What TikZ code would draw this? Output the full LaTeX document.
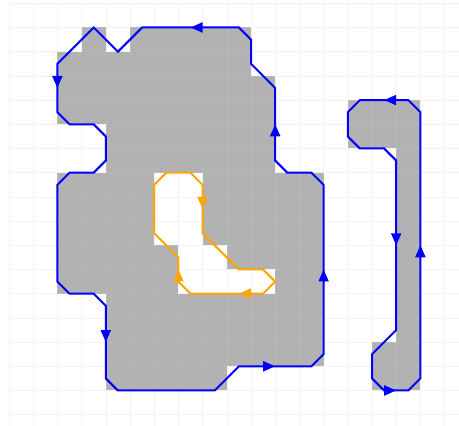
\documentclass[tikz,border=0pt]{standalone}
\usepackage{tikz}
\usetikzlibrary{arrows.meta}
\definecolor{cellgray}{RGB}{178,178,178}
\definecolor{outline}{RGB}{0,0,255}
\definecolor{holeline}{RGB}{255,165,0}

\begin{document}
\begin{tikzpicture}[
    x=24.2pt, y=-24.2pt,
    cell/.style={fill=cellgray},
    gridline/.style={draw=black!5, line width=0.6pt},
    gridover/.style={draw=white, opacity=0.08, line width=0.6pt},
    outer/.style={draw=outline, line width=2pt, line join=miter},
    hole/.style={draw=holeline, line width=2pt, line join=miter},
    outerarrow/.style={outer, -{Triangle[length=12pt,width=10pt]}},
    holearrow/.style={hole, -{Triangle[length=12pt,width=10pt]}}
]
\useasboundingbox (-0.372,-0.136) rectangle (18.595,17.467);

% background grid
\foreach \i in {0,...,18} \draw[gridline] (\i,0) -- (\i,17.467);
\foreach \j in {0,...,17} \draw[gridline] (0,\j) -- (18.595,\j);

% filled cells: row/first column/last column
\foreach \r/\a/\b in {1/3/3, 1/5/9, 2/2/9, 3/2/10, 4/2/10, 5/4/10, 6/4/10,
    7/2/5, 7/8/12, 8/2/5, 8/8/12, 9/2/5, 9/8/12, 10/2/6, 10/9/12,
    11/2/6, 11/11/12, 12/4/12, 13/4/12, 14/4/12, 15/4/8,
    4/14/16, 5/14/16, 14/15/16, 15/15/16}
  \fill[cell] (\a,\r) rectangle ({\b+1},{\r+1});
\fill[cell] (16,6) rectangle (17,14);

\foreach \i in {0,...,18} \draw[gridover] (\i,0) -- (\i,17.467);
\foreach \j in {0,...,17} \draw[gridover] (0,\j) -- (18.595,\j);

% outer contour of the big region
\draw[outer] (9.5,1) -- (5.5,1) -- (4.5,2) -- (3.5,1) -- (2,2.5) -- (2,4.5)
  -- (2.5,5) -- (3.5,5) -- (4,5.5) -- (4,6.5) -- (3.5,7) -- (2.5,7) -- (2,7.5)
  -- (2,11.5) -- (2.5,12) -- (3.5,12) -- (4,12.5) -- (4,15.5) -- (4.5,16)
  -- (8.5,16) -- (9.5,15) -- (12.5,15) -- (13,14.5) -- (13,7.5) -- (12.5,7)
  -- (11.5,7) -- (11,6.5) -- (11,3.5) -- (10,2.5) -- (10,1.5) -- cycle;
\draw[outerarrow] (8,1) -- (7.5,1);
\draw[outerarrow] (2,3) -- (2,3.5);
\draw[outerarrow] (4,13.5) -- (4,14);
\draw[outerarrow] (10.5,15) -- (11,15);
\draw[outerarrow] (13,11.5) -- (13,11);
\draw[outerarrow] (11,5.5) -- (11,5);

% hole
\draw[hole] (6.5,7) -- (7.5,7) -- (8,7.5) -- (8,9.5) -- (9.5,11) -- (10.5,11)
  -- (11,11.5) -- (10.5,12) -- (7.5,12) -- (7,11.5) -- (7,10.5) -- (6,9.5)
  -- (6,7.5) -- cycle;
\draw[holearrow] (8,8) -- (8,8.5);
\draw[holearrow] (10,12) -- (9.5,12);
\draw[holearrow] (7,11.5) -- (7,11);

% small region on the right
\draw[outer] (16.5,4) -- (14.5,4) -- (14,4.5) -- (14,5.5) -- (14.5,6) -- (15.5,6)
  -- (16,6.5) -- (16,13.5) -- (15,14.5) -- (15,15.5) -- (15.5,16) -- (16.5,16)
  -- (17,15.5) -- (17,4.5) -- cycle;
\draw[outerarrow] (16,4) -- (15.5,4);
\draw[outerarrow] (16,9.5) -- (16,10);
\draw[outerarrow] (15.6,16) -- (16,16);
\draw[outerarrow] (17,10.5) -- (17,10);
\end{tikzpicture}
\end{document}
